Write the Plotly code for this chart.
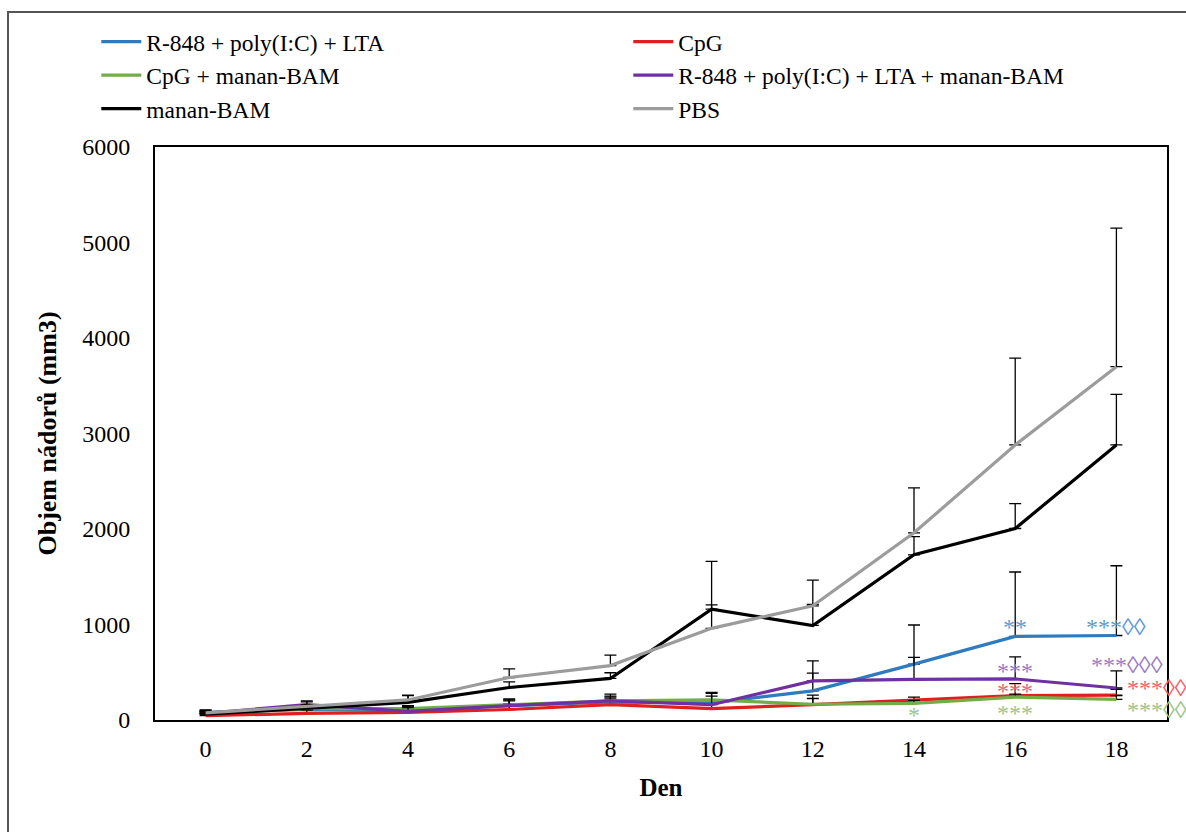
import plotly.graph_objects as go

days = [0, 2, 4, 6, 8, 10, 12, 14, 16, 18]

names = ["R-848 + poly(I:C) + LTA", "CpG", "CpG + manan-BAM",
         "R-848 + poly(I:C) + LTA + manan-BAM", "manan-BAM", "PBS"]

blue_vals = [80, 110, 100, 150, 190, 180, 305, 585, 875, 885]
red_vals = [45, 70, 80, 110, 160, 120, 160, 210, 255, 260]
green_vals = [70, 120, 120, 160, 200, 210, 165, 175, 240, 215]
purple_vals = [70, 160, 90, 150, 200, 160, 410, 425, 430, 335]
black_vals = [60, 120, 185, 340, 435, 1160, 990, 1730, 2005, 2880]
gray_vals = [75, 140, 210, 445, 570, 960, 1195, 1960, 2880, 3700]

blue_err = [20, 30, 40, 60, 60, 100, 185, 410, 675, 730]
red_err = [20, 30, 30, 60, 60, 50, 100, 30, 125, 60]
green_err = [20, 30, 30, 40, 40, 40, 60, 30, 30, 40]
purple_err = [20, 30, 40, 70, 70, 130, 210, 230, 230, 180]
black_err = [30, 40, 70, 60, 60, 45, 220, 190, 260, 530]
gray_err = [30, 60, 50, 90, 110, 700, 270, 470, 910, 1450]

y_ticks = [0, 1000, 2000, 3000, 4000, 5000, 6000]

colors = ["#2E7BBF", "#E0201E", "#72AE48", "#7030A0", "#000000", "#9C9C9C"]
legend_ids = ["legend", "legend2", "legend", "legend2", "legend", "legend2"]
star_colors = {"blue": "#5B9BD5", "red": "#F0646A", "green": "#9CC487", "purple": "#9A7AC4"}

series = [blue_vals, red_vals, green_vals, purple_vals, black_vals, gray_vals]
errors = [blue_err, red_err, green_err, purple_err, black_err, gray_err]

SERIF = "Liberation Serif, Times New Roman, serif"

fig = go.Figure()
for name, vals, err, col, lg in zip(names, series, errors, colors, legend_ids):
    fig.add_trace(go.Scatter(
        x=days, y=vals, name=name, mode="lines", legend=lg,
        line=dict(color=col, width=3.2),
        error_y=dict(type="data", array=err, arrayminus=[0] * len(err), symmetric=False,
                     color="black", thickness=1.3, width=6),
    ))

DIA = "\u25CA"


def ann(x, y, text, color, xanchor="center"):
    return dict(x=x, y=y, xref="x", yref="y", text=text, showarrow=False,
                xanchor=xanchor, yanchor="middle",
                font=dict(family=SERIF, size=24, color=color))


annotations = [
    ann(16, 975, "**", star_colors["blue"]),
    ann(17.35, 975, "***" + DIA * 2, star_colors["blue"], "left"),
    ann(16, 515, "***", star_colors["purple"]),
    ann(17.45, 580, "***" + DIA * 3, star_colors["purple"], "left"),
    ann(16, 305, "***", star_colors["red"]),
    ann(18.16, 330, "***" + DIA * 3, star_colors["red"], "left"),
    ann(14, 55, "*", star_colors["green"]),
    ann(16, 75, "***", star_colors["green"]),
    ann(18.16, 108, "***" + DIA * 3, star_colors["green"], "left"),
]

legend_common = dict(orientation="v", xanchor="left", yanchor="top",
                     font=dict(family=SERIF, size=23.5, color="black"),
                     itemwidth=40, tracegroupgap=0, bgcolor="rgba(0,0,0,0)")

fig.update_layout(
    width=1186, height=832,
    margin=dict(l=155, r=19, t=147, b=112),
    paper_bgcolor="white", plot_bgcolor="white",
    font=dict(family=SERIF, size=24, color="black"),
    showlegend=True,
    legend=dict(x=-0.058, y=1.222, **legend_common),
    legend2=dict(x=-0.058 + 532 / 1012, y=1.222, **legend_common),
    annotations=annotations,
    shapes=[dict(type="rect", xref="paper", yref="paper",
                 x0=(8 - 155) / 1012, x1=(1200 - 155) / 1012,
                 y0=-0.3, y1=1 + (147 - 12) / 573,
                 line=dict(color="#555555", width=2), fillcolor="rgba(0,0,0,0)")],
)

fig.update_xaxes(
    range=[-1, 19], tickvals=days, ticktext=[str(d) for d in days],
    showline=True, linecolor="black", linewidth=2, mirror=True,
    showgrid=False, zeroline=False,
    ticks="outside", ticklen=6, tickcolor="rgba(0,0,0,0)",
    tickfont=dict(family=SERIF, size=24),
    title=dict(text="<b>Den</b>", font=dict(family=SERIF, size=25), standoff=18),
)
fig.update_yaxes(
    range=[0, 6000], tickvals=y_ticks,
    showline=True, linecolor="black", linewidth=2, mirror=True,
    showgrid=False, zeroline=False,
    ticks="outside", ticklen=18, tickcolor="rgba(0,0,0,0)",
    tickfont=dict(family=SERIF, size=24),
    title=dict(text="<b>Objem nádorů (mm3)</b>", font=dict(family=SERIF, size=26), standoff=18),
)

fig.write_html("out.html")
